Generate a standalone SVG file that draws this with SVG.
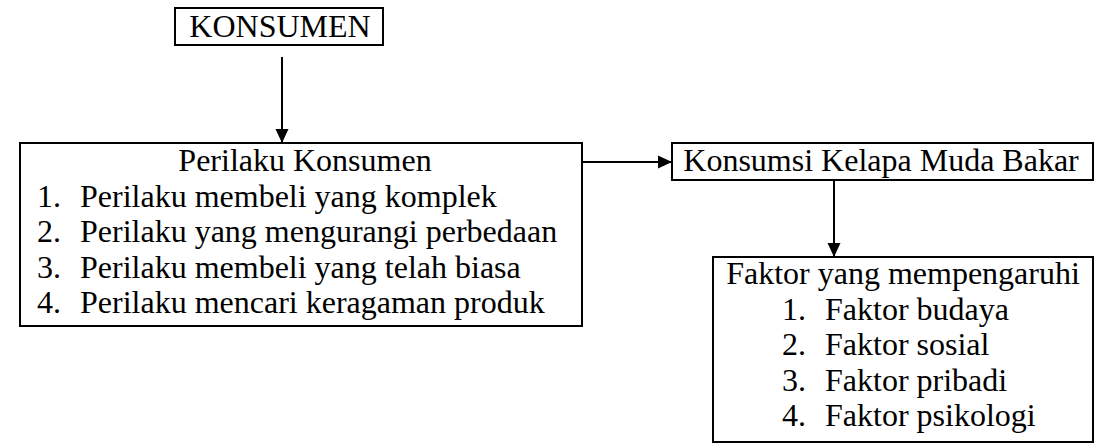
<svg xmlns="http://www.w3.org/2000/svg" width="1094" height="445" viewBox="0 0 1094 445">
<style>
.box{fill:#fff;stroke:#000;stroke-width:2}
.t{font-family:"Liberation Serif","Times New Roman",serif;font-size:32px;fill:#000}
.c{text-anchor:middle}
.ln{stroke:#000;stroke-width:2;fill:none}
</style>
<defs>
<marker id="ah" markerWidth="14" markerHeight="14" refX="14" refY="7" orient="auto" markerUnits="userSpaceOnUse">
<path d="M0,0.5 L14,7 L0,13.5 Z" fill="#000"/>
</marker>
</defs>
<rect width="1094" height="445" fill="#fff"/>
<g id="connectors">
<line class="ln" x1="282" y1="57" x2="282" y2="143" marker-end="url(#ah)"/>
<line class="ln" x1="577" y1="162" x2="672" y2="162" marker-end="url(#ah)"/>
<line class="ln" x1="834" y1="180" x2="834" y2="257" marker-end="url(#ah)"/>
</g>
<g id="konsumen">
<rect class="box" x="175" y="8" width="208" height="37"/>
<text class="t c" x="280" y="37">KONSUMEN</text>
</g>
<g id="perilaku">
<rect class="box" x="20" y="143" width="562" height="183"/>
<text class="t c" x="305" y="171">Perilaku Konsumen</text>
<text class="t" x="37" y="206.5">1.</text><text class="t" x="80" y="206.5">Perilaku membeli yang komplek</text>
<text class="t" x="37" y="242">2.</text><text class="t" x="80" y="242">Perilaku yang mengurangi perbedaan</text>
<text class="t" x="37" y="277.5">3.</text><text class="t" x="80" y="277.5">Perilaku membeli yang telah biasa</text>
<text class="t" x="37" y="313">4.</text><text class="t" x="80" y="313">Perilaku mencari keragaman produk</text>
</g>
<g id="konsumsi">
<rect class="box" x="672" y="143" width="421" height="37"/>
<text class="t c" x="881" y="171">Konsumsi Kelapa Muda Bakar</text>
</g>
<g id="faktor">
<rect class="box" x="713" y="257" width="380" height="185"/>
<text class="t c" x="903" y="284">Faktor yang mempengaruhi</text>
<text class="t" x="782" y="319.5">1.</text><text class="t" x="825" y="319.5">Faktor budaya</text>
<text class="t" x="782" y="355">2.</text><text class="t" x="825" y="355">Faktor sosial</text>
<text class="t" x="782" y="390.5">3.</text><text class="t" x="825" y="390.5">Faktor pribadi</text>
<text class="t" x="782" y="426">4.</text><text class="t" x="825" y="426">Faktor psikologi</text>
</g>
</svg>
